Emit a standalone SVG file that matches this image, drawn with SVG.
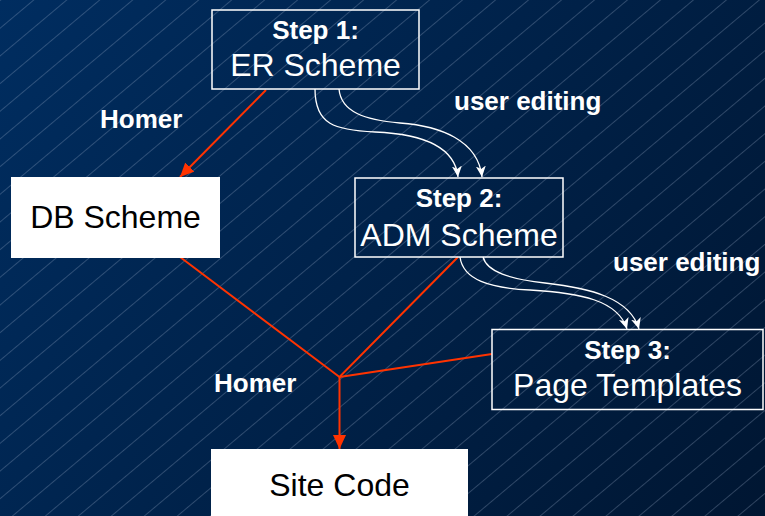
<svg xmlns="http://www.w3.org/2000/svg" width="765" height="516" viewBox="0 0 765 516">
<defs>
<linearGradient id="bg" x1="0" y1="0" x2="765" y2="516" gradientUnits="userSpaceOnUse">
<stop offset="0" stop-color="#002D60"/>
<stop offset="1" stop-color="#001632"/>
</linearGradient>
<pattern id="hatch" patternUnits="userSpaceOnUse" width="60" height="21.2" patternTransform="rotate(-40)">
<line x1="0" y1="0.5" x2="60" y2="0.5" stroke="#9fb2cc" stroke-opacity="0.42" stroke-width="0.7"/>
</pattern>
<marker id="redArrow" markerUnits="userSpaceOnUse" markerWidth="16" markerHeight="14" refX="14" refY="6.5" orient="auto">
<path d="M0,0 L14,6.5 L0,13 z" fill="#FF3300"/>
</marker>
<marker id="whiteArrow" markerUnits="userSpaceOnUse" markerWidth="13" markerHeight="11" refX="11" refY="5" orient="auto">
<path d="M0,0 L11,5 L0,10 L3,5 z" fill="#FFFFFF"/>
</marker>
<style>
.box{fill:none;stroke:#FFFFFF;stroke-width:1.5}
.wbox{fill:#FFFFFF;stroke:none}
.step{font-family:"Liberation Sans",Arial,sans-serif;font-weight:bold;font-size:26px;fill:#FFFFFF;text-anchor:middle}
.name{font-family:"Liberation Sans",Arial,sans-serif;font-size:32px;fill:#FFFFFF;text-anchor:middle}
.dname{font-family:"Liberation Sans",Arial,sans-serif;font-size:32px;fill:#000000;text-anchor:middle}
.lbl{font-family:"Liberation Sans",Arial,sans-serif;font-weight:bold;font-size:26px;fill:#FFFFFF}
.red{fill:none;stroke:#FF3300;stroke-width:2}
.cur{fill:none;stroke:#FFFFFF;stroke-width:1.3}
</style>
</defs>
<rect x="0" y="0" width="765" height="516" fill="url(#bg)"/>
<rect x="0" y="0" width="765" height="516" fill="url(#hatch)"/>

<g id="connectors">
<line class="red" x1="266" y1="90" x2="180" y2="177" marker-end="url(#redArrow)"/>
<polyline class="red" points="180,257 339.5,377 458,257"/>
<line class="red" x1="492" y1="354" x2="339.5" y2="377"/>
<line class="red" x1="339.5" y1="377" x2="339.5" y2="449" marker-end="url(#redArrow)"/>
<path class="cur" d="M315,89 C315,125 335,130 375,132 C425,134 455,148 458,177" marker-end="url(#whiteArrow)"/>
<path class="cur" d="M339,89 C341,112 365,120 400,123 C440,126 478,140 482,177" marker-end="url(#whiteArrow)"/>
<path class="cur" d="M460,257 C463,280 490,288 530,290 C580,293 618,300 627,329" marker-end="url(#whiteArrow)"/>
<path class="cur" d="M483,257 C487,272 510,279 545,283 C590,288 630,298 639,329" marker-end="url(#whiteArrow)"/>
</g>

<g id="labels">
<text class="lbl" x="100" y="128">Homer</text>
<text class="lbl" x="454" y="110">user editing</text>
<text class="lbl" x="613" y="271">user editing</text>
<text class="lbl" x="214" y="392">Homer</text>
</g>

<g id="step1">
<rect class="box" x="212" y="10" width="207" height="79"/>
<text class="step" x="315.5" y="39">Step 1:</text>
<text class="name" x="315.5" y="76">ER Scheme</text>
</g>

<g id="dbscheme">
<rect class="wbox" x="11" y="177" width="209" height="81"/>
<text class="dname" x="115.5" y="228">DB Scheme</text>
</g>

<g id="step2">
<rect class="box" x="355" y="178" width="208" height="79"/>
<text class="step" x="459" y="207">Step 2:</text>
<text class="name" x="459" y="246">ADM Scheme</text>
</g>

<g id="step3">
<rect class="box" x="492" y="329.5" width="271" height="80"/>
<text class="step" x="627.5" y="359">Step 3:</text>
<text class="name" x="627.5" y="396">Page Templates</text>
</g>

<g id="sitecode">
<rect class="wbox" x="211" y="449" width="257" height="70"/>
<text class="dname" x="339.5" y="496">Site Code</text>
</g>
</svg>
